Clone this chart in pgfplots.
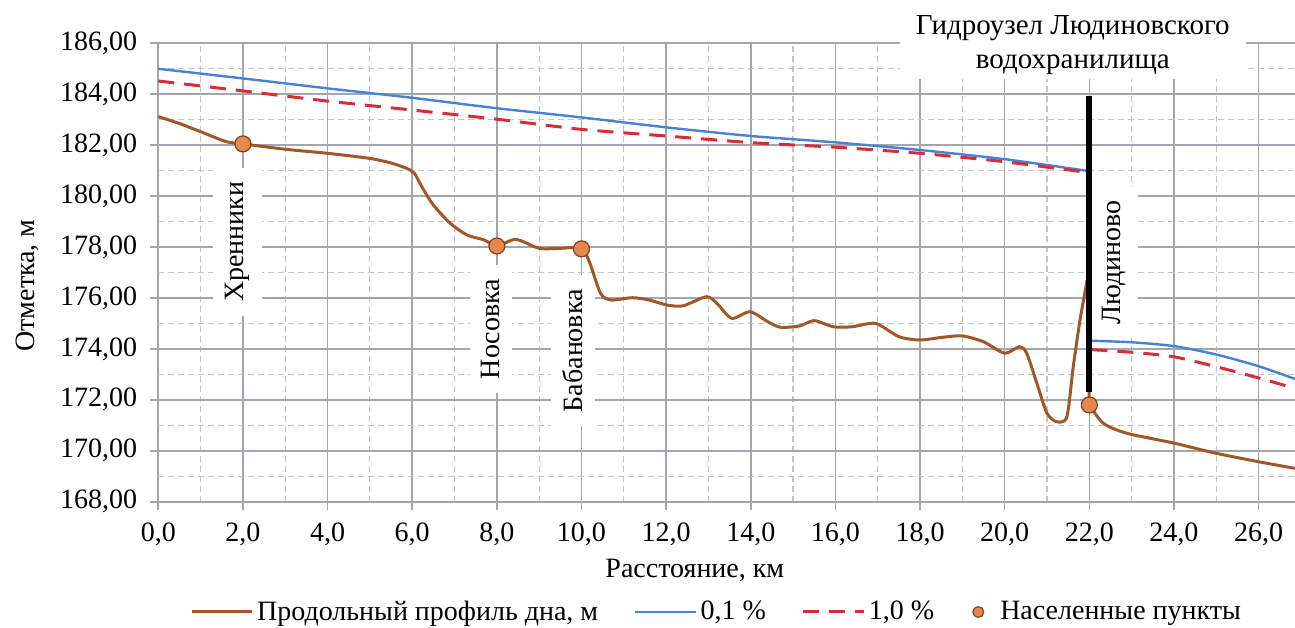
\documentclass[border=0pt]{standalone}
\usepackage{fontspec}
\setmainfont{Liberation Serif}
\usepackage{pgfplots}
\pgfplotsset{compat=1.18}

\definecolor{dno}{RGB}{160,88,40}
\definecolor{p01}{RGB}{72,130,215}
\definecolor{p10}{RGB}{215,45,55}
\definecolor{punkt}{RGB}{232,135,75}
\definecolor{punktdraw}{RGB}{120,70,35}
\definecolor{gridc}{RGB}{165,165,175}
\definecolor{gridm}{RGB}{195,195,202}

\pgfplotsset{
    linelegend/.style={legend image code/.code={\draw[##1] plot coordinates {(0pt,0pt) (30pt,0pt)};}},
    dotlegend/.style={legend image code/.code={\path[draw=none, fill=none] (0pt,0pt) -- (13pt,0pt);\draw[##1, mark size=2.7pt] plot[only marks] coordinates {(4pt,0pt)};}},
}
\tikzset{punktlabel/.style={rotate=90, fill=white, inner xsep=7pt, inner ysep=6pt, font=\fontsize{14}{16}\selectfont}}

\begin{document}
\begin{tikzpicture}
\begin{axis}[
    scale only axis,
    width=568.35pt, height=229.2pt,
    xmin=0, xmax=26.86,
    ymin=168, ymax=186,
    clip=false,
    axis line style={draw=none},
    tick pos=left,
    tick align=outside,
    major tick length=4pt,
    minor tick length=0pt,
    tick style={gridc, line width=0.8pt},
    xtick={0,2,...,26},
    ytick={168,170,...,186},
    minor x tick num=1,
    minor y tick num=1,
    grid=both,
    major grid style={draw=gridc, line width=0.8pt},
    minor grid style={draw=gridm, line width=0.6pt, dash pattern=on 3pt off 2pt},
    /pgf/number format/assume math mode=true,
    tick label style={font=\fontsize{14}{16}\selectfont},
    xticklabel style={yshift=-3pt, /pgf/number format/.cd, fixed, fixed zerofill, precision=1, use comma},
    yticklabel style={xshift=-3pt, /pgf/number format/.cd, fixed, fixed zerofill, precision=2, use comma, 1000 sep={}},
    xlabel={Расстояние, км},
    ylabel={Отметка, м},
    label style={font=\fontsize{14}{16}\selectfont},
    xlabel style={at={(axis description cs:0.472,-0.151)}, anchor=center},
    ylabel style={at={(axis description cs:-0.1155,0.4716)}, anchor=center},
    linelegend,
    legend style={at={(0.492,-0.2406)}, anchor=center, draw=none, fill=none,
        legend columns=4, font=\fontsize{14}{16}\selectfont,
        /tikz/every even column/.append style={column sep=16pt}},
]
\coordinate (bl) at (rel axis cs:0,0);
\coordinate (tr) at (rel axis cs:1,1);

% подписи населенных пунктов и гидроузла
\node[punktlabel] at (axis cs:1.87,178.21) {Хренники};
\node[punktlabel] at (axis cs:7.86,174.78) {Носовка};
\node[punktlabel] at (axis cs:9.80,173.93) {Бабановка};
\node[punktlabel] at (axis cs:22.58,177.39) {Людиново};
\node[fill=white, align=center, inner xsep=8pt, inner ysep=2pt, font=\fontsize{14.5}{17}\selectfont] at (axis cs:21.61,185.93) {Гидроузел Людиновского\\водохранилища};

% продольный профиль дна
\addplot[dno, line width=1.5pt, smooth, tension=0.45] coordinates {
(0,183.12) (0.5,182.85) (1.0,182.53) (1.6,182.14) (2.0,182.05) (3.0,181.84)
(4.0,181.68) (5.0,181.48) (5.5,181.30) (5.85,181.10) (6.05,180.90) (6.25,180.30)
(6.5,179.65) (6.9,178.93) (7.3,178.47) (7.7,178.28) (8.0,178.04) (8.45,178.30)
(9.0,177.95) (9.5,177.95) (10.0,177.95) (10.2,177.36) (10.45,176.18) (10.7,175.92)
(11.2,176.01) (11.6,175.92) (12.0,175.73) (12.4,175.69) (12.95,176.05) (13.2,175.79)
(13.55,175.20) (13.98,175.46) (14.4,175.07) (14.7,174.85) (15.15,174.90) (15.5,175.11)
(15.95,174.87) (16.4,174.87) (16.95,175.00) (17.5,174.48) (18.0,174.35) (18.55,174.46)
(19.0,174.51) (19.5,174.28) (20.0,173.83) (20.35,174.09) (20.52,173.83) (20.76,172.65)
(21.0,171.47) (21.23,171.14) (21.47,171.34) (21.62,173.30) (21.78,175.13) (21.95,176.70)
};
\addlegendentry{Продольный профиль дна, м}
\addplot[p01, line width=1.2pt, smooth, tension=0.4] coordinates {
(0,185.00) (2,184.62) (4,184.23) (6,183.86) (8,183.45) (10,183.09) (12,182.70)
(14,182.36) (16,182.11) (18,181.81) (20,181.45) (22,180.98)
};
\addlegendentry{0,1 \%}
\addplot[p10, line width=1.5pt, dash pattern=on 8pt off 5pt, smooth, tension=0.4] coordinates {
(0,184.52) (2,184.13) (4,183.73) (6,183.38) (8,183.02) (10,182.62) (12,182.36)
(14,182.10) (16,181.92) (18,181.68) (20,181.35) (22,180.92)
};
\addlegendentry{1,0 \%}

\addplot[dno, line width=1.5pt, forget plot] coordinates {(21.95,176.70) (22.0,171.80)};
\addplot[dno, line width=1.5pt, smooth, tension=0.45, forget plot] coordinates {
(22.0,171.80) (22.33,171.08) (22.88,170.69) (24.0,170.30) (25.0,169.90) (26.0,169.57) (26.86,169.31)
};
\addplot[p01, line width=1.2pt, smooth, tension=0.4, forget plot] coordinates {
(22.05,174.32) (23,174.26) (24,174.11) (25,173.78) (26,173.32) (26.86,172.82)
};
\addplot[p10, line width=1.5pt, dash pattern=on 8pt off 5pt, smooth, tension=0.4, forget plot] coordinates {
(22.05,173.97) (23,173.87) (24,173.69) (25,173.30) (26,172.86) (26.86,172.45)
};
% гидроузел
\addplot[black, line width=3pt, forget plot] coordinates {(22,183.93) (22,172.32)};

% населенные пункты
\addplot[only marks, mark=*, mark size=4pt, mark options={fill=punkt, draw=punktdraw, line width=0.6pt}, dotlegend] coordinates {
(2,182.05) (8,178.04) (10,177.93) (22,171.80)
};
\addlegendentry{Населенные пункты}
\end{axis}
\pgfresetboundingbox
\path ([shift={(-79.15pt,-62.65pt)}]bl) rectangle ([shift={(0pt,21.65pt)}]tr);
\end{tikzpicture}
\end{document}
